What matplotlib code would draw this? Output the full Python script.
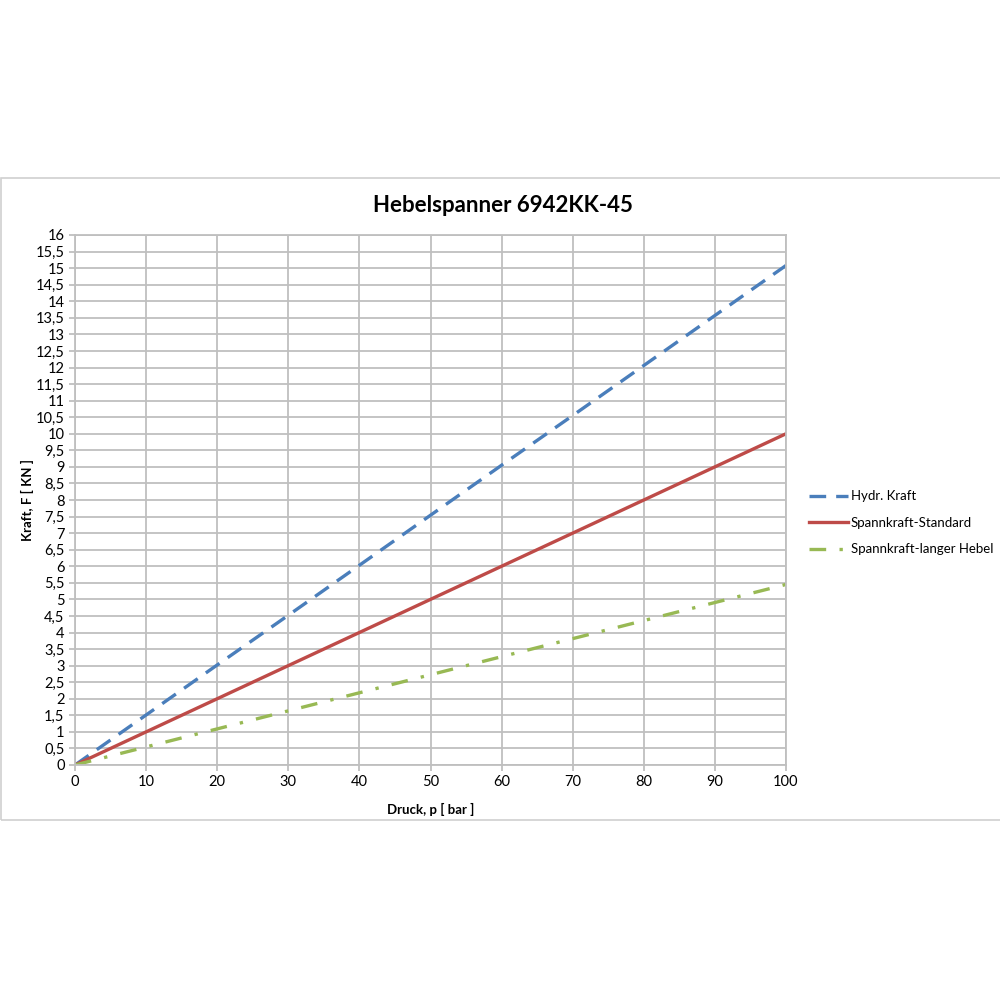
import matplotlib.pyplot as plt
from matplotlib.patches import Rectangle
from matplotlib.ticker import FuncFormatter, MultipleLocator

plt.rcParams['font.family'] = ['Lato', 'DejaVu Sans']

# Druck in bar
druck = [0, 10, 20, 30, 40, 50, 60, 70, 80, 90, 100]
# Kraft in KN
hydr_kraft = [0, 1.51, 3.02, 4.52, 6.03, 7.54, 9.05, 10.55, 12.06, 13.57, 15.08]
spann_standard = [0, 1.0, 2.0, 3.0, 4.0, 5.0, 6.0, 7.0, 8.0, 9.0, 10.0]
spann_lang = [0, 0.545, 1.09, 1.635, 2.18, 2.725, 3.27, 3.815, 4.36, 4.905, 5.45]

grid_col = '#bfbfbf'

fig = plt.figure(figsize=(10, 10), dpi=100)
fig.patches.append(Rectangle((0.001, 0.18), 1.2, 0.642, transform=fig.transFigure,
                             fill=False, edgecolor='#d0d0d0', linewidth=1.2))

ax = fig.add_axes([0.075, 0.235, 0.711, 0.53])
ax.plot(druck, hydr_kraft, color='#4a7ebb', lw=2.4, dashes=(5, 3), label='Hydr. Kraft')
ax.plot(druck, spann_standard, color='#be4b48', lw=2.4, label='Spannkraft-Standard')
ax.plot(druck, spann_lang, color='#98b954', lw=2.4, dashes=(5, 4, 1, 4),
        label='Spannkraft-langer Hebel')

ax.set_xlim(0, 100)
ax.set_ylim(0, 16)
ax.xaxis.set_major_locator(MultipleLocator(10))
ax.yaxis.set_major_locator(MultipleLocator(0.5))
ax.yaxis.set_major_formatter(FuncFormatter(lambda v, p: ('%g' % v).replace('.', ',')))
ax.grid(True, color=grid_col, lw=1.3)
ax.set_axisbelow(True)
for s in ax.spines.values():
    s.set_color(grid_col)
    s.set_linewidth(1.3)
ax.tick_params(colors=grid_col, labelcolor='black', labelsize=10.5, length=4, width=1.3)

fig.text(0.503, 0.795, 'Hebelspanner 6942KK-45', fontsize=16, fontweight='bold',
         ha='center', va='center')
ax.set_xlabel('Druck, p [ bar ]', fontsize=9.5, fontweight='bold', labelpad=10)
ax.set_ylabel('Kraft, F [ KN ]', fontsize=9.5, fontweight='bold', labelpad=1)

ax.legend(loc='center left', bbox_to_anchor=(1.015, 0.457), frameon=False, fontsize=9.5,
          handlelength=3.0, handletextpad=0.2, labelspacing=1.1)

fig.savefig('out.png', dpi=100)
